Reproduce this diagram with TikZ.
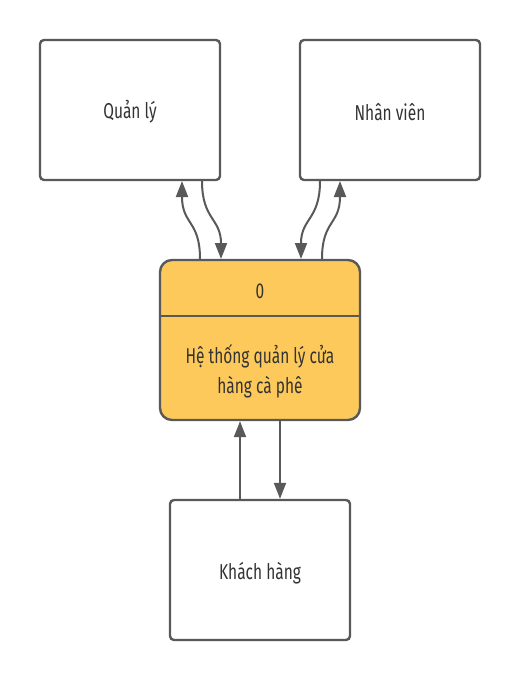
\documentclass[tikz,border=0pt]{standalone}
\usepackage{fontspec}
\setmainfont{Fira Sans}[FakeStretch=0.72]
\usetikzlibrary{arrows.meta}
\definecolor{edge}{HTML}{595959}
\definecolor{txt}{HTML}{333333}
\definecolor{proc}{HTML}{FDC95B}
\begin{document}
\begin{tikzpicture}[x=1pt,y=-1pt,
  ent/.style={draw=edge,line width=2.4pt,rounded corners=4pt,fill=white,minimum width=180pt,minimum height=140pt,inner sep=0pt,text=txt},
  flow/.style={draw=edge,line width=2pt,-{Triangle[length=16pt,width=12pt]}},
  lbl/.style={font=\fontsize{21.5}{26}\selectfont,text=txt,inner sep=0pt}]
\useasboundingbox (0,0) rectangle (520,680);
\node[ent] (ql) at (130,110) {};
\node[ent] (nv) at (390,110) {};
\node[ent] (kh) at (260,570) {};
\node[lbl] (qlt) at (130,112) {Quản lý};
\node[lbl] (nvt) at (390,112) {Nhân viên};
\node[lbl] (kht) at (260,573) {Khách hàng};
\node[draw=edge,line width=2.4pt,rounded corners=12pt,fill=proc,minimum width=200pt,minimum height=160pt,inner sep=0pt] (sys) at (260,340) {};
\draw[edge,line width=2.4pt] (161,316) -- (359,316);
\node[lbl] (num) at (260,291) {0};
\node[lbl,align=center,font=\fontsize{21.5}{30}\selectfont] (name) at (260,371) {Hệ thống quản lý cửa\\hàng cà phê};
% left pair
\coordinate (a1) at (200,259); \coordinate (a2) at (182,181);
\coordinate (b1) at (202,181); \coordinate (b2) at (221,259);
\draw[flow] (a1) .. controls (200,220) and (182,225) .. (a2);
\draw[flow] (b1) .. controls (202,220) and (221,218) .. (b2);
% right pair
\coordinate (c1) at (320,181); \coordinate (c2) at (301,259);
\coordinate (d1) at (322,259); \coordinate (d2) at (340,181);
\draw[flow] (c1) .. controls (320,220) and (301,218) .. (c2);
\draw[flow] (d1) .. controls (322,220) and (340,225) .. (d2);
% bottom pair
\draw[flow] (kh.north -| 240,0) -- (sys.south -| 240,0);
\draw[flow] (sys.south -| 280,0) -- (kh.north -| 280,0);
\end{tikzpicture}
\end{document}
